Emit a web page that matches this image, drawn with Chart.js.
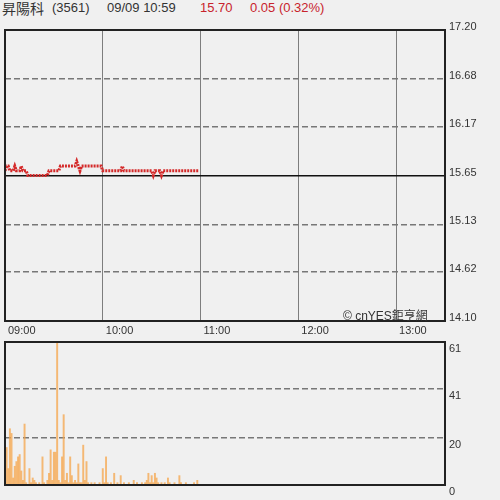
<!DOCTYPE html>
<html>
<head>
<meta charset="utf-8">
<script src="https://cdn.jsdelivr.net/npm/chart.js@4.4.0/dist/chart.umd.min.js"></script>
<style>
  body { margin: 0; background: #f0f0f0; font-family: "Liberation Sans", Arial, "Noto Sans CJK TC", sans-serif; }
  #wrap { position: relative; width: 500px; height: 500px; overflow: hidden; }
  .hd { position: absolute; top: 0px; font-size: 13px; color: #333; white-space: nowrap; }
  .cjk { font-size: 14px; font-family: "Noto Sans CJK TC", sans-serif; }
  .red { color: #c8232c; }
  #mark { position: absolute; left: 343px; top: 306px; font-size: 12px; color: #333; }
  canvas { position: absolute; left: 0; }
</style>
</head>
<body>
<div id="wrap">
  <div class="hd" style="left:2px;top:-2px"><span class="cjk">昇陽科</span></div>
  <div class="hd" style="left:52px">(3561)</div>
  <div class="hd" style="left:107px">09/09 10:59</div>
  <div class="hd red" style="left:200px">15.70</div>
  <div class="hd red" style="left:250px">0.05 (0.32%)</div>
  <canvas id="priceChart" style="top:20px" width="500" height="320"></canvas>
  <canvas id="volChart" style="top:340px" width="500" height="160"></canvas>
  <div id="mark">© cnYES鉅亨網</div>
</div>
<script>
// minutes after 09:00, one value per minute (09:00 - 10:59)
const prices = [
    15.70, 15.75, 15.75, 15.70, 15.70, 15.70, 15.75, 15.70, 15.70, 15.70,
    15.75, 15.70, 15.70, 15.70, 15.65, 15.65, 15.65, 15.65, 15.65, 15.65,
    15.65, 15.65, 15.65, 15.65, 15.65, 15.65, 15.65, 15.70, 15.70, 15.70,
    15.70, 15.70, 15.70, 15.70, 15.75, 15.75, 15.75, 15.75, 15.75, 15.75,
    15.75, 15.75, 15.75, 15.75, 15.80, 15.75, 15.70, 15.75, 15.75, 15.75,
    15.75, 15.75, 15.75, 15.75, 15.75, 15.75, 15.75, 15.75, 15.75, 15.75,
    15.70, 15.70, 15.70, 15.70, 15.70, 15.70, 15.70, 15.70, 15.70, 15.70,
    15.70, 15.70, 15.75, 15.70, 15.70, 15.70, 15.70, 15.70, 15.70, 15.70,
    15.70, 15.70, 15.70, 15.70, 15.70, 15.70, 15.70, 15.70, 15.70, 15.70,
    15.70, 15.65, 15.70, 15.70, 15.70, 15.70, 15.65, 15.70, 15.70, 15.70,
    15.70, 15.70, 15.70, 15.70, 15.70, 15.70, 15.70, 15.70, 15.70, 15.70,
    15.70, 15.70, 15.70, 15.70, 15.70, 15.70, 15.70, 15.70, 15.70, 15.70
];
const volumes = [
    43, 16, 7, 24, 22, 3, 8, 10, 12, 13,
    6, 2, 26, 1, 0, 7, 1, 3, 2, 1,
    0, 1, 0, 12, 1, 0, 2, 5, 15, 2,
    14, 14, 61, 2, 1, 12, 30, 2, 5, 1,
    12, 4, 1, 2, 1, 9, 1, 1, 17, 2,
    10, 1, 0, 1, 0, 1, 0, 0, 1, 0,
    7, 1, 12, 1, 0, 1, 0, 5, 0, 1,
    0, 4, 0, 1, 0, 0, 1, 0, 0, 2,
    0, 1, 0, 0, 1, 0, 1, 2, 5, 1,
    4, 1, 5, 3, 1, 0, 1, 0, 1, 0,
    3, 1, 0, 0, 1, 0, 0, 4, 1, 0,
    0, 1, 0, 0, 0, 0, 1, 0, 2, 0
];
const prevClose = 15.65;
const priceTicks = [14.10, 14.62, 15.13, 15.65, 16.17, 16.68, 17.20];
const volTicks = [0, 20, 41, 61];
const timeTicks = [0, 60, 120, 180, 240];
const timeLabels = ["09:00", "10:00", "11:00", "12:00", "13:00"];
const sessionMinutes = 270;

const tickFont = { family: "'Liberation Sans', Arial, sans-serif", size: 11 };

// draws the black frame round the plot area
const framePlugin = {
    id: "frame",
    afterDraw(chart) {
        const a = chart.chartArea;
        const ctx = chart.ctx;
        ctx.save();
        ctx.strokeStyle = "#222";
        ctx.lineWidth = 2;
        ctx.strokeRect(a.left, a.top, a.right - a.left, a.bottom - a.top);
        ctx.restore();
    }
};

function fixYAxis(s) {
    s.width = 55;
    s.paddingTop = 0;
    s.paddingBottom = 0;
}

new Chart(document.getElementById("priceChart"), {
    type: "line",
    data: {
        datasets: [{
            data: prices.map((p, i) => ({ x: i, y: p })),
            borderColor: "#d42a2a",
            borderWidth: 3,
            borderDash: [2, 1],
            pointRadius: 0,
            tension: 0
        }]
    },
    options: {
        responsive: false,
        animation: false,
        layout: { padding: { left: 5, top: 10, right: 0, bottom: 0 } },
        plugins: { legend: { display: false }, tooltip: { enabled: false } },
        scales: {
            x: {
                type: "linear",
                min: 0,
                max: sessionMinutes,
                afterBuildTicks: s => { s.ticks = timeTicks.map(v => ({ value: v })); },
                afterFit: s => { s.height = 19; },
                grid: { color: "#7e7e7e", lineWidth: 1, drawTicks: false },
                border: { display: false },
                ticks: {
                    align: "start",
                    labelOffset: 3,
                    padding: 3,
                    maxRotation: 0,
                    color: "#333",
                    font: tickFont,
                    callback: (v, i) => timeLabels[i]
                }
            },
            y: {
                position: "right",
                min: priceTicks[0],
                max: priceTicks[priceTicks.length - 1],
                afterBuildTicks: s => { s.ticks = priceTicks.map(v => ({ value: v })); },
                afterFit: fixYAxis,
                grid: {
                    drawTicks: false,
                    color: c => c.tick && c.tick.value === prevClose ? "#111" : "#777",
                    lineWidth: 1.5
                },
                border: {
                    display: false,
                    dash: c => c.tick && c.tick.value === prevClose ? [] : [6, 3]
                },
                ticks: {
                    padding: 4,
                    labelOffset: -3,
                    color: "#333",
                    font: tickFont,
                    callback: v => v.toFixed(2)
                }
            }
        }
    },
    plugins: [framePlugin]
});

new Chart(document.getElementById("volChart"), {
    type: "bar",
    data: {
        datasets: [{
            data: volumes.map((v, i) => ({ x: i, y: v })),
            backgroundColor: volumes.map((v, i) => i === 0 ? "#ee9a3a" : "rgba(245,165,75,0.75)"),
            barThickness: 1.3,
            borderWidth: 0
        }]
    },
    options: {
        responsive: false,
        animation: false,
        layout: { padding: { left: 5, top: 2, right: 0, bottom: 15 } },
        plugins: { legend: { display: false }, tooltip: { enabled: false } },
        scales: {
            x: {
                type: "linear",
                min: 0,
                max: sessionMinutes,
                offset: false,
                display: false
            },
            y: {
                position: "right",
                min: 0,
                max: volTicks[volTicks.length - 1],
                afterBuildTicks: s => { s.ticks = volTicks.map(v => ({ value: v })); },
                afterFit: fixYAxis,
                grid: { drawTicks: false, color: "#777", lineWidth: 1.5 },
                border: { display: false, dash: [6, 3] },
                ticks: {
                    padding: 4,
                    labelOffset: 7,
                    color: "#333",
                    font: tickFont
                }
            }
        }
    },
    plugins: [framePlugin]
});
</script>
</body>
</html>
